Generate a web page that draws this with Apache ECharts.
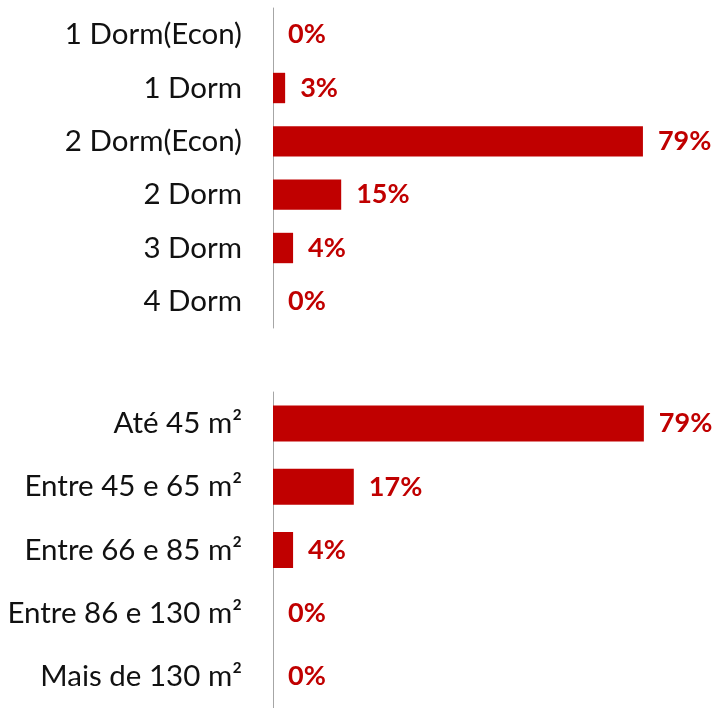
<!DOCTYPE html>
<html>
<head>
<meta charset="utf-8">
<script src="https://cdn.jsdelivr.net/npm/echarts@6/dist/echarts.min.js"></script>
<style>
	html, body { margin: 0; padding: 0; background: #fff; }
	#chart { width: 720px; height: 708px; }
</style>
</head>
<body>
<div id="chart"></div>
<script>
// top block: bedrooms
var dormCategories = ['1 Dorm(Econ)', '1 Dorm', '2 Dorm(Econ)', '2 Dorm', '3 Dorm', '4 Dorm'];
var dormValues = [0, 2.6, 79.2, 14.6, 4.3, 0];

// bottom block: area
var areaCategories = ['Até 45 m²', 'Entre 45 e 65 m²', 'Entre 66 e 85 m²', 'Entre 86 e 130 m²', 'Mais de 130 m²'];
var areaValues = [79.4, 17.3, 4.3, 0, 0];

var barColor = '#C00000';
var labelFont = 'Lato';

function catAxis(idx, data) {
	return {
		type: 'category',
		gridIndex: idx,
		data: data,
		inverse: true,
		axisTick: { show: false },
		axisLine: { lineStyle: { color: '#a6a6a6', width: 1 } },
		axisLabel: {
			color: '#111',
			fontFamily: labelFont,
			fontSize: 29.5,
			margin: 31
		}
	};
}

function valAxis(idx) {
	return {
		type: 'value',
		gridIndex: idx,
		min: 0,
		max: 95.7,
		show: false,
		splitLine: { show: false }
	};
}

function barSeries(idx, data) {
	return {
		type: 'bar',
		xAxisIndex: idx,
		yAxisIndex: idx,
		data: data,
		barWidth: '57%',
		itemStyle: { color: barColor },
		label: {
			show: true,
			position: 'right',
			distance: 15,
			color: barColor,
			fontFamily: labelFont,
			fontWeight: 'bold',
			fontSize: 27,
			formatter: function (p) {
				return Math.round(p.value) + '%';
			}
		}
	};
}

var chart = echarts.init(document.getElementById('chart'));
chart.setOption({
	animation: false,
	grid: [
		{ left: 273, right: 0, top: 8, height: 320 },
		{ left: 273, right: 0, top: 392, height: 320 }
	],
	xAxis: [valAxis(0), valAxis(1)],
	yAxis: [catAxis(0, dormCategories), catAxis(1, areaCategories)],
	series: [barSeries(0, dormValues), barSeries(1, areaValues)]
});
</script>
</body>
</html>
